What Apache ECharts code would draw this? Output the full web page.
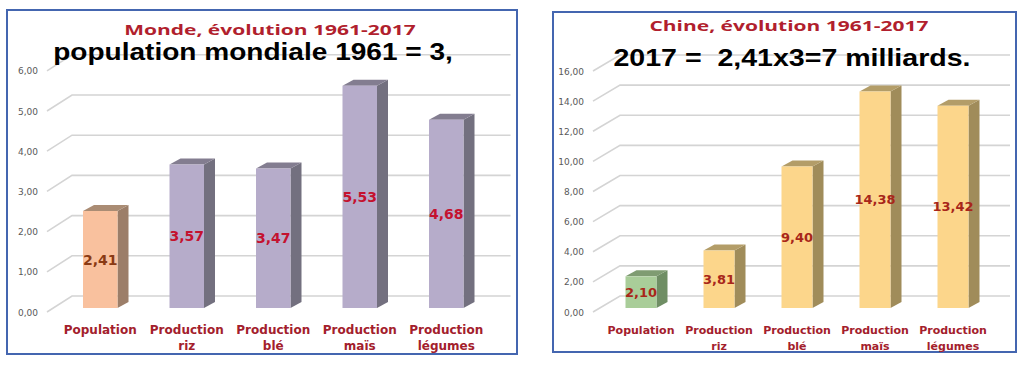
<!DOCTYPE html>
<html>
<head>
<meta charset="utf-8">
<script src="https://cdn.jsdelivr.net/npm/echarts@6/dist/echarts.min.js"></script>
<style>
html,body{margin:0;padding:0;background:#fff;}
#c{width:1024px;height:365px;}
</style>
</head>
<body>
<div id="c"></div>
<script>
// ---- data ----
const categories = ['Population', 'Production\nriz', 'Production\nblé', 'Production\nmaïs', 'Production\nlégumes'];
const worldValues = [2.41, 3.57, 3.47, 5.53, 4.68];
const chinaValues = [2.10, 3.81, 9.40, 14.38, 13.42];
const worldTicks = [0, 1, 2, 3, 4, 5, 6];
const chinaTicks = [0, 2, 4, 6, 8, 10, 12, 14, 16];
const worldTitle = 'Monde, évolution 1961-2017';
const chinaTitle = 'Chine, évolution 1961-2017';
const worldNote = 'population mondiale 1961 = 3,';
const chinaNote = '2017 =  2,41x3=7 milliards.';

// ---- styles ----
const fmt = v => v.toFixed(2).replace('.', ',');
const worldColors = [
  {front: '#f9c19e', side: '#9c7e69', top: '#aa8c74'},
  {front: '#b6acca', side: '#73707f', top: '#837d90'}
];
const chinaColors = [
  {front: '#a9cd99', side: '#6f8e64', top: '#7f9c72'},
  {front: '#fcd68b', side: '#a08c5a', top: '#b39d68'}
];

function sidesSeries(idx, values, colors, dx, dy) {
  return {
    type: 'custom', xAxisIndex: idx, yAxisIndex: idx, z: 3, clip: false,
    data: values.map((v, i) => [i, v]),
    renderItem: function (params, api) {
      const i = api.value(0), v = api.value(1);
      const top = api.coord([i, v]);
      const bot = api.coord([i, 0]);
      const w = api.size([1, 0])[0] * colors.bw;
      const xl = top[0] - w / 2, xr = top[0] + w / 2;
      const c = i === 0 ? colors.c[0] : colors.c[1];
      return {
        type: 'group', children: [
          {type: 'polygon', shape: {points: [[xr, top[1]], [xr + dx, top[1] - dy], [xr + dx, bot[1] - dy], [xr, bot[1]]]}, style: {fill: c.side}},
          {type: 'polygon', shape: {points: [[xl, top[1]], [xl + dx, top[1] - dy], [xr + dx, top[1] - dy], [xr, top[1]]]}, style: {fill: c.top}}
        ]
      };
    }
  };
}

function wallSeries(idx, ticks, frontOff, backOff, rightOff) {
  return {
    type: 'custom', xAxisIndex: idx, yAxisIndex: idx, z: 1, clip: false, silent: true,
    data: ticks.map(t => [0, t]),
    renderItem: function (params, api) {
      const p = api.coord([0, api.value(1)]);
      const cs = params.coordSys;
      const y = p[1];
      return {
        type: 'polyline',
        shape: {points: [[cs.x - frontOff, y + 4], [cs.x + backOff, y - 12], [cs.x + cs.width + rightOff, y - 12]]},
        style: {stroke: '#d4d4d4', lineWidth: 1.6, fill: null}
      };
    }
  };
}

function frontSeries(idx, values, colors, bw, labelColors, labelSize) {
  return {
    type: 'bar', xAxisIndex: idx, yAxisIndex: idx, z: 4, barWidth: bw,
    data: values.map((v, i) => ({
      value: v,
      itemStyle: {color: i === 0 ? colors[0].front : colors[1].front},
      label: {color: i === 0 ? labelColors[0] : labelColors[1]}
    })),
    label: {
      show: true, position: 'inside', formatter: p => fmt(p.value),
      fontFamily: 'DejaVu Sans', fontWeight: 'bold', fontSize: labelSize
    }
  };
}

function catLabel(size) {
  return {
    color: '#a3202c', fontFamily: 'DejaVu Sans', fontWeight: 'bold', fontSize: size,
    lineHeight: 16, margin: 14, interval: 0
  };
}
const valLabel = {
  color: '#595959', fontFamily: 'DejaVu Sans', fontSize: 9,
  formatter: v => fmt(v), verticalAlign: 'top'
};

function txt(text, x, y, size, family, color, sx) {
  return {
    type: 'text', x: x, y: y, scaleX: sx, z: 10,
    style: {text: text, fill: color, font: 'bold ' + size + 'px "' + family + '"', align: 'center', verticalAlign: 'middle'}
  };
}

const chart = echarts.init(document.getElementById('c'), null, {renderer: 'svg'});
chart.setOption({
  backgroundColor: '#ffffff',
  animation: false,
  graphic: [
    {type: 'rect', shape: {x: 7, y: 10, width: 510, height: 344}, style: {fill: null, stroke: '#4466b0', lineWidth: 2}, z: 0},
    {type: 'rect', shape: {x: 553, y: 12, width: 463, height: 340}, style: {fill: null, stroke: '#4466b0', lineWidth: 2}, z: 0},
    txt(worldTitle, 270, 29, 15, 'Open Sans', '#b11f2e', 1.4),
    txt(chinaTitle, 789, 25, 15, 'Open Sans', '#b11f2e', 1.4),
    txt(worldNote, 253, 52, 23, 'Liberation Sans', '#000000', 1.22),
    txt(chinaNote, 792, 58, 24, 'Liberation Sans', '#000000', 1.19)
  ],
  grid: [
    {left: 57, width: 432.5, top: 66.8, bottom: 57},
    {left: 602, width: 390, top: 67, bottom: 57}
  ],
  xAxis: [
    {type: 'category', gridIndex: 0, data: categories, axisLine: {show: false}, axisTick: {show: false}, axisLabel: catLabel(12)},
    {type: 'category', gridIndex: 1, data: categories, axisLine: {show: false}, axisTick: {show: false}, axisLabel: catLabel(11)}
  ],
  yAxis: [
    {type: 'value', gridIndex: 0, min: 0, max: 6, interval: 1, splitLine: {show: false}, axisLine: {show: false}, axisTick: {show: false}, axisLabel: Object.assign({margin: 19}, valLabel)},
    {type: 'value', gridIndex: 1, min: 0, max: 16, interval: 2, splitLine: {show: false}, axisLine: {show: false}, axisTick: {show: false}, axisLabel: Object.assign({margin: 18}, valLabel)}
  ],
  series: [
    wallSeries(0, worldTicks, 10, 15, 21),
    wallSeries(1, chinaTicks, 9, 18, 18),
    sidesSeries(0, worldValues, {c: worldColors, bw: 34.5 / 86.5}, 11, 6),
    sidesSeries(1, chinaValues, {c: chinaColors, bw: 31 / 78}, 11, 6),
    frontSeries(0, worldValues, worldColors, 34.5, ['#8a3a14', '#c4122f'], 14),
    frontSeries(1, chinaValues, chinaColors, 31, ['#a8261a', '#a8261a'], 13)
  ]
});
</script>
</body>
</html>
